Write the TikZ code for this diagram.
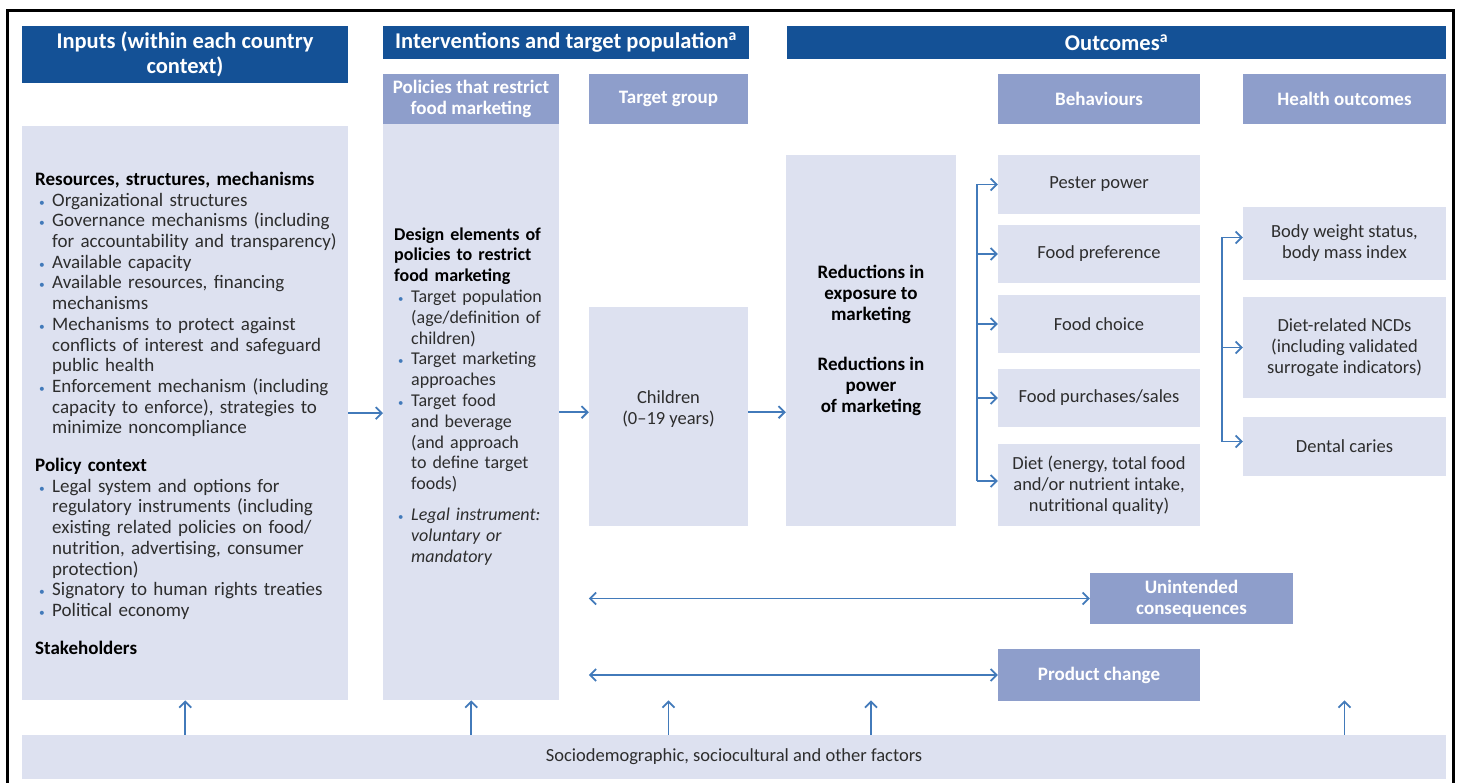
\documentclass[tikz,border=0pt]{standalone}
\usepackage{fontspec}
\usepackage{graphicx}
\setmainfont{Carlito}
\usetikzlibrary{arrows.meta}
\definecolor{hdblue}{RGB}{20,81,150}
\definecolor{midblue}{RGB}{142,158,203}
\definecolor{paleblue}{RGB}{221,225,240}
\definecolor{arrblue}{RGB}{66,122,186}
\definecolor{txtgray}{RGB}{45,45,45}
\newcommand{\bul}{\par\hangindent=17pt\hangafter=1\noindent\makebox[17pt][l]{\hspace{4pt}\textcolor{arrblue}{\scalebox{0.6}{\textbullet}}}}
\begin{document}
\begin{tikzpicture}[x=1pt, y=-1pt,
    sz/.style 2 args={minimum width=#1pt, minimum height=#2pt},
    hdbox/.style={fill=hdblue, text=white, font=\bfseries\fontsize{22.5}{25}\selectfont, align=center, inner sep=0pt},
    subhd/.style={fill=midblue, text=white, font=\bfseries\fontsize{19}{21}\selectfont, align=center, inner sep=0pt},
    pbox/.style={fill=paleblue, text=txtgray, font=\fontsize{18.5}{21}\selectfont, align=center, inner sep=0pt},
    brline/.style={arrblue, line width=1.8pt},
    arr/.style={brline, -{Straight Barb[length=6pt,width=12pt]}},
    arrboth/.style={brline, {Straight Barb[length=6pt,width=12pt]}-{Straight Barb[length=6pt,width=12pt]}}]
  \useasboundingbox (0,0) rectangle (1459,783);
  \draw[line width=3pt] (7,800) -- (7,11) -- (1453,11) -- (1453,800); % frame, open at the bottom

  % headers
  \node[hdbox, sz={326}{57}] (inputsHd) at (185,54.5) {Inputs (within each country\\ context)};
  \node[hdbox, sz={366}{33}] (intHd) at (566,42.5) {Interventions and target population\textsuperscript{a}};
  \node[hdbox, sz={659}{33}] (outHd) at (1116.5,42.5) {Outcomes\textsuperscript{a}};
  \node[subhd, sz={176}{50}] (polHd) at (471,99) {Policies that restrict\\ food marketing};
  \node[subhd, sz={159}{50}] (tgtHd) at (668.5,99) {Target group};
  \node[subhd, sz={202}{50}] (behHd) at (1099,99) {Behaviours};
  \node[subhd, sz={203}{50}] (hlthHd) at (1344.5,99) {Health outcomes};

  % inputs
  \node[pbox, align=left, text width=310pt, inner xsep=8pt, minimum height=574pt, anchor=north west,
        font=\fontsize{19}{20.7}\selectfont] (inputs) at (22,126) {\leftskip=5pt
    \textcolor{black}{\textbf{Resources, structures, mechanisms}}
    \bul Organizational structures
    \bul Governance mechanisms (including\newline for accountability and transparency)
    \bul Available capacity
    \bul Available resources, financing\newline mechanisms
    \bul Mechanisms to protect against\newline conflicts of interest and safeguard\newline public health
    \bul Enforcement mechanism (including\newline capacity to enforce), strategies to\newline minimize noncompliance
    \par\vspace{17pt}\noindent\textcolor{black}{\textbf{Policy context}}
    \bul Legal system and options for\newline regulatory instruments (including\newline existing related policies on food/\newline nutrition, advertising, consumer\newline protection)
    \bul Signatory to human rights treaties
    \bul Political economy
    \par\vspace{17pt}\noindent\textcolor{black}{\textbf{Stakeholders}}\par};

  % policies
  \node[pbox, align=left, text width=162pt, inner xsep=7pt, minimum height=576pt, anchor=north west,
        font=\fontsize{18}{20.8}\selectfont] (policies) at (383,124) {\leftskip=4pt
    \textcolor{black}{\textbf{Design elements of\newline policies to restrict\newline food marketing}}
    \bul Target population\newline (age/definition of\newline children)
    \bul Target marketing\newline approaches
    \bul Target food\newline and beverage\newline (and approach\newline to define target\newline foods)
    \par\vspace{10pt}
    \bul \textit{Legal instrument:\newline voluntary or\newline mandatory}
    \par\vspace*{32pt}};

  \node[pbox, sz={159}{219}] (children) at (668.5,416.5) {Children\\ (0–19 years)\\[-3pt]};
  \node[pbox, sz={170}{371}, text=black, font=\bfseries\fontsize{19}{21}\selectfont] (reductions) at (871,340.5)
    {Reductions in\\ exposure to\\ marketing\\[29pt] Reductions in\\ power\\ of marketing};

  % behaviours
  \node[pbox, sz={202}{59}] (pester) at (1099,184.5) {Pester power};
  \node[pbox, sz={202}{58}] (pref) at (1099,254) {Food preference};
  \node[pbox, sz={202}{58}] (choice) at (1099,324) {Food choice};
  \node[pbox, sz={202}{58}] (purch) at (1099,398) {Food purchases/sales};
  \node[pbox, sz={202}{82}] (diet) at (1099,485) {Diet (energy, total food\\ and/or nutrient intake,\\ nutritional quality)};

  % health outcomes
  \node[pbox, sz={203}{73}] (body) at (1344.5,243.5) {Body weight status,\\ body mass index};
  \node[pbox, sz={203}{101}] (ncd) at (1344.5,347.5) {Diet-related NCDs\\ (including validated\\ surrogate indicators)};
  \node[pbox, sz={203}{59}] (dental) at (1344.5,446.5) {Dental caries};

  \node[subhd, sz={203}{51}] (unint) at (1191.5,598.5) {Unintended\\ consequences};
  \node[subhd, sz={202}{52}] (product) at (1099,675) {Product change};
  \node[pbox, sz={1424}{44}] (factors) at (734,757) {Sociodemographic, sociocultural and other factors};

  % main flow
  \draw[arr] (inputs.east) -- (inputs.east -| policies.west);
  \draw[arr] (policies.east) -- (policies.east -| children.west);
  \draw[arr] (children.east |- policies.east) -- (reductions.west |- policies.east);

  % behaviour bracket
  \coordinate (bk) at (977,0);
  \draw[brline] (pester.west -| bk) -- ([yshift=4pt]diet.west -| bk);
  \draw[arr] (pester.west -| bk) -- (pester.west);
  \draw[arr] (pref.west -| bk) -- (pref.west);
  \draw[arr] (choice.west -| bk) -- (choice.west);
  \draw[arr] (purch.west -| bk) -- (purch.west);
  \draw[arr] ([yshift=4pt]diet.west -| bk) -- ([yshift=4pt]diet.west);

  % health bracket
  \coordinate (hk) at (1222,0);
  \draw[brline] ([yshift=6pt]body.west -| hk) -- ([yshift=5pt]dental.west -| hk);
  \draw[arr] ([yshift=6pt]body.west -| hk) -- ([yshift=6pt]body.west);
  \draw[arr] (ncd.west -| hk) -- (ncd.west);
  \draw[arr] ([yshift=5pt]dental.west -| hk) -- ([yshift=5pt]dental.west);

  \draw[arrboth] (unint.west -| children.west) -- (unint.west);
  \draw[arrboth] (product.west -| children.west) -- (product.west);

  % influences from below
  \draw[arr] (inputs.south |- factors.north) -- (inputs.south);
  \draw[arr] (policies.south |- factors.north) -- (policies.south);
  \draw[arr] (children.south |- factors.north) -- (children.south |- policies.south);
  \draw[arr] (reductions.south |- factors.north) -- (reductions.south |- policies.south);
  \draw[arr] (dental.south |- factors.north) -- (dental.south |- policies.south);
\end{tikzpicture}
\end{document}
